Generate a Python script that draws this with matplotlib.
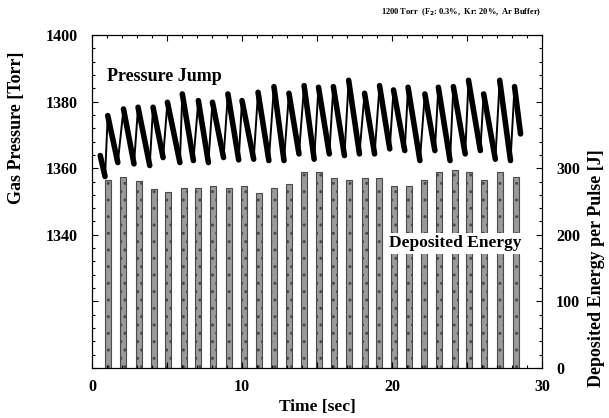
import matplotlib
matplotlib.use("Agg")
import matplotlib.pyplot as plt
from matplotlib.ticker import MultipleLocator, FuncFormatter

plt.rcParams['font.family'] = ['Liberation Serif', 'DejaVu Serif']
plt.rcParams['font.weight'] = 'bold'

# ======================
# Data
# ======================
# deposited energy per burst [J]
burst_t = [1.1, 2.1, 3.1, 4.15, 5.1, 6.15, 7.1, 8.1, 9.15, 10.15, 11.15, 12.15, 13.15, 14.1,
           15.15, 16.15, 17.15, 18.2, 19.15, 20.15, 21.15, 22.15, 23.15, 24.2, 25.15, 26.15, 27.2, 28.25]
energy = [282, 287, 281, 269, 265, 270, 270, 273, 270, 273, 263, 270, 277, 294,
          294, 285, 282, 286, 286, 273, 274, 282, 294, 298, 294, 282, 294, 287]

# pressure trace: start point, peaks and the trough after each peak
start_t, start_p = [0.55, 0.87], [1363.8, 1357.5]
peak_t = [1.05, 2.10, 3.07, 4.07, 5.03, 6.02, 7.09, 8.03, 9.06, 10.0, 11.07, 12.13, 13.13, 14.14,
          15.10, 16.09, 17.11, 18.17, 19.17, 20.10, 21.07, 22.19, 23.09, 24.09, 25.10, 26.11, 27.18, 28.17]
peak_p = [1375.8, 1377.8, 1378.3, 1378.3, 1379.8, 1382.3, 1380.3, 1379.8, 1382.3, 1380.3, 1382.8, 1384.5,
          1382.5, 1384.8, 1384.3, 1384.5, 1386.4, 1382.5, 1384.8, 1383.5, 1384.3, 1382.3, 1384.3, 1384.5,
          1386.4, 1382.3, 1386.4, 1384.5]
trough_t = [1.72, 2.80, 3.85, 4.74, 5.86, 6.76, 7.76, 8.77, 9.78, 10.78, 11.79, 12.80, 13.80, 14.81,
            15.82, 16.83, 17.83, 18.84, 19.85, 20.85, 21.86, 22.86, 23.87, 24.88, 25.89, 26.89, 27.90, 28.57]
trough_p = [1361.7, 1361.3, 1360.8, 1363.2, 1361.7, 1362.3, 1361.7, 1363.2, 1362.5, 1362.7, 1362.3, 1362.3,
            1364.3, 1362.7, 1364.3, 1363.8, 1364.3, 1364.3, 1365.8, 1365.3, 1362.3, 1365.3, 1362.3, 1364.3,
            1365.3, 1362.7, 1362.3, 1370.3]

# ======================
# Figure
# ======================
fig = plt.figure(figsize=(6.09, 4.18), dpi=100)
ax = fig.add_axes([92 / 609, 1 - 368 / 418, 450 / 609, 333 / 418])
ax2 = ax.twinx()
ax.set_zorder(ax2.get_zorder() + 1)
ax.patch.set_visible(False)

# energy bars
ax2.bar(burst_t, energy, width=0.4, color='#9a9a9a', edgecolor='#4a4a4a', linewidth=0.8,
        hatch='..', zorder=2)
ax2.text(19.8, 187, 'Deposited Energy', fontsize=12.5, fontweight='bold', va='center', ha='left',
         bbox=dict(facecolor='white', edgecolor='none', pad=1.5), zorder=5)

# pressure trace: thin rises, thick noisy decays
line_t = list(start_t)
line_p = list(start_p)
for i in range(len(peak_t)):
    line_t += [peak_t[i], trough_t[i]]
    line_p += [peak_p[i], trough_p[i]]
ax.plot(line_t, line_p, color='black', lw=1.4, zorder=3)
for i in range(len(peak_t)):
    ax.plot([peak_t[i], trough_t[i]], [peak_p[i], trough_p[i]], color='black', lw=4.0,
            solid_capstyle='round', zorder=3)
ax.plot(start_t, start_p, color='black', lw=4.0, solid_capstyle='round', zorder=3)

ax.text(1.0, 1387.5, 'Pressure Jump', fontsize=13, fontweight='bold', va='center', ha='left')

# axes, ticks
ax.set_xlim(0, 30)
ax.set_ylim(1300, 1400)
ax2.set_ylim(0, 500)

ax.xaxis.set_major_locator(MultipleLocator(5))
ax.xaxis.set_minor_locator(MultipleLocator(1))
ax.xaxis.set_major_formatter(FuncFormatter(lambda v, p: f'{v:.0f}' if v % 10 == 0 else ''))
ax.yaxis.set_major_locator(MultipleLocator(20))
ax.yaxis.set_minor_locator(MultipleLocator(4))
ax.yaxis.set_major_formatter(FuncFormatter(lambda v, p: f'{v:.0f}' if v >= 1340 else ''))
ax2.yaxis.set_major_locator(MultipleLocator(100))
ax2.yaxis.set_minor_locator(MultipleLocator(20))
ax2.yaxis.set_major_formatter(FuncFormatter(lambda v, p: f'{v:.0f}' if v <= 300 else ''))

ax.tick_params(which='both', direction='in', top=True, labelsize=11.5, width=0.8)
ax.tick_params(which='major', length=4, pad=8)
ax.tick_params(which='minor', length=2)
ax.tick_params(axis='y', which='major', pad=10)
ax2.tick_params(which='both', direction='in', labelsize=11.5, width=0.8)
ax2.tick_params(which='major', length=4, pad=10)
ax2.tick_params(which='minor', length=2)
for lab in ax.get_xticklabels() + ax.get_yticklabels() + ax2.get_yticklabels():
    lab.set_fontweight('bold')

ax.set_xlabel('Time [sec]', fontsize=12.5, fontweight='bold', labelpad=0)
ax.xaxis.set_label_coords(0.5, -0.093)
ax.set_ylabel('Gas Pressure [Torr]', fontsize=13, fontweight='bold')
ax.yaxis.set_label_coords(-0.148, 0.72)
ax2.set_ylabel('Deposited Energy per Pulse [J]', fontsize=13, fontweight='bold')
ax2.yaxis.set_label_coords(1.103, 0.30)

fig.text(541 / 609, 1 - 12 / 418, '1200 Torr  (F$_2$: 0.3%,  Kr: 20%,  Ar Buffer)',
         fontsize=6, fontweight='bold', ha='right', va='center')

fig.savefig('out.png', dpi=100)
